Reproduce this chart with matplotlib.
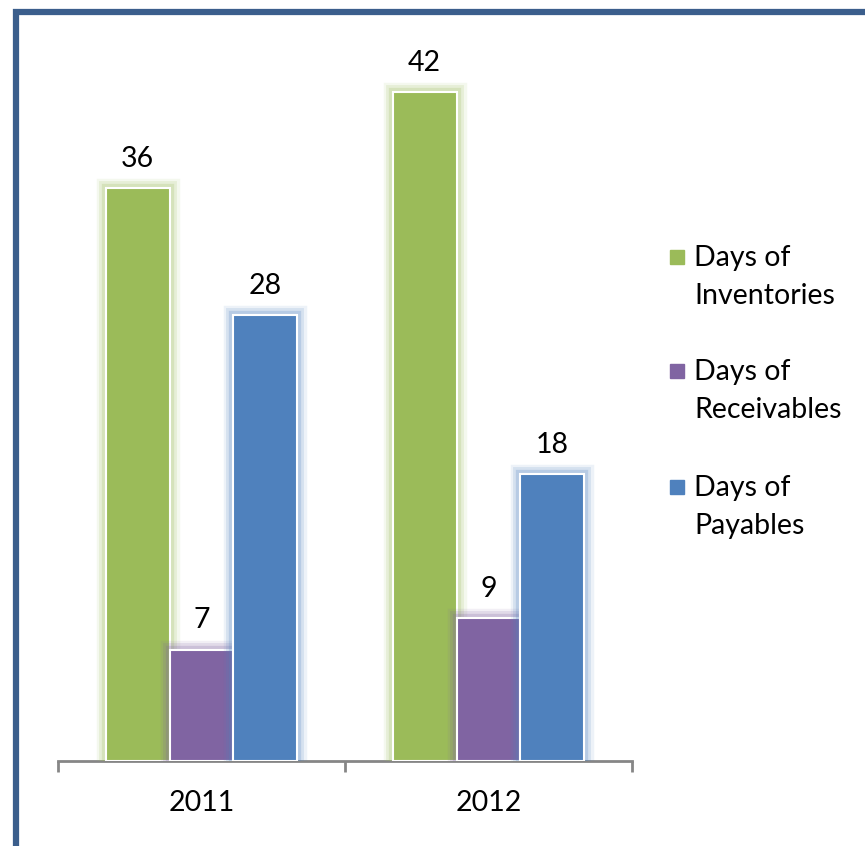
import matplotlib.pyplot as plt
import matplotlib.patheffects as pe
from matplotlib.patches import Rectangle
import numpy as np

plt.rcParams['font.family'] = ['Lato', 'DejaVu Sans']

years = ["2011", "2012"]
series = ["Days of\nInventories", "Days of\nReceivables", "Days of\nPayables"]
inventories = [36, 42]
receivables = [7, 9]
payables = [28, 18]
colors = ["#9BBB59", "#8064A2", "#4F81BD"]

W, H = 865, 846
fig = plt.figure(figsize=(W / 100, H / 100), dpi=100)

# axes box in pixels: x 58..632, baseline at y=761
left, right, base, top = 58, 632, 761, 28
ax = fig.add_axes([left / W, 1 - base / H, (right - left) / W, (base - top) / H])

x = np.arange(len(years))
bw = 1 / 4.5
for i, (vals, c) in enumerate(zip([inventories, receivables, payables], colors)):
    pos = x + (i - 1) * bw
    bars = ax.bar(pos, vals, width=bw, color=c, edgecolor="white", linewidth=1.5, zorder=3)
    for b in bars:
        b.set_path_effects([
            pe.Stroke(linewidth=14, foreground=c, alpha=0.10),
            pe.Stroke(linewidth=10, foreground=c, alpha=0.15),
            pe.Stroke(linewidth=6, foreground=c, alpha=0.22),
            pe.Normal(),
        ])
    for p, v in zip(pos, vals):
        ax.annotate(str(v), (p, v), xytext=(0, 21), textcoords="offset points",
                    ha="center", va="center", fontsize=20.5, color="black")

ax.set_xlim(-0.5, 1.5)
ax.set_ylim(0, (base - top) / 15.92)
for s in ["top", "right", "left"]:
    ax.spines[s].set_visible(False)
ax.spines["bottom"].set_color("#868686")
ax.spines["bottom"].set_linewidth(2)
ax.set_yticks([])
ax.set_xticks([-0.5, 0.5, 1.5], minor=False)
ax.set_xticklabels([])
ax.tick_params(axis="x", which="major", length=8, width=2, color="#868686", direction="out")
ax.set_xticks(x, minor=True)
ax.set_xticklabels(years, minor=True, fontsize=20.5)
ax.tick_params(axis="x", which="minor", length=0, pad=21)

# legend drawn by hand so the swatch sits on the first text line
leg_y = [257, 371, 487]
for name, c, yy in zip(series, colors, leg_y):
    fig.patches.append(Rectangle((670 / W, 1 - (yy + 7) / H), 14 / W, 14 / H,
                                 transform=fig.transFigure, color=c))
    fig.text(694 / W, 1 - (yy - 12) / H, name, fontsize=20.5, va="top", ha="left",
             linespacing=1.58)

# outer frame, cut off on the right and bottom
fig.patches.append(Rectangle((16 / W, -0.05), 1.1, 1 - 12.5 / H + 0.05,
                             transform=fig.transFigure, fill=False,
                             edgecolor="#3B5E8C", linewidth=4.5))

fig.savefig("out.png", dpi=100)
